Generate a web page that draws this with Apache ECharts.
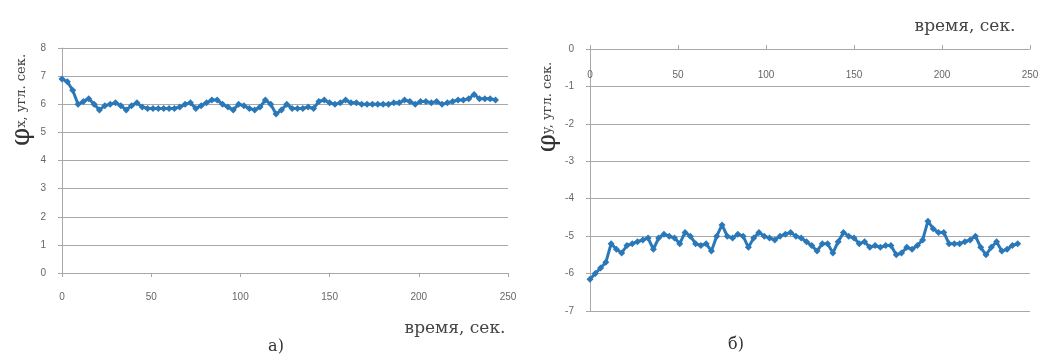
<!DOCTYPE html>
<html>
<head>
    <meta charset="utf-8">
    <script src="https://cdn.jsdelivr.net/npm/echarts@6/dist/echarts.min.js"></script>
    <title>phi x / phi y</title>
</head>
<body style="margin:0;background:#fff;">
    <div id="container" style="width:1045px;height:360px;"></div>
    <script type="text/javascript">
    // время, сек. (шаг 3 с)
    var timeSec = [];
    for (var t = 0; t <= 243; t += 3) timeSec.push(t);

    // φx, угл. сек.
    var phiX = [6.9, 6.8, 6.5, 6.0, 6.1, 6.2, 6.0, 5.8, 5.95, 6.0, 6.05, 5.95, 5.8, 5.95, 6.05, 5.9,
        5.85, 5.85, 5.85, 5.85, 5.85, 5.85, 5.9, 6.0, 6.05, 5.85, 5.95, 6.05, 6.15, 6.15, 6.0, 5.9,
        5.8, 6.0, 5.95, 5.85, 5.8, 5.9, 6.15, 6.0, 5.65, 5.8, 6.0, 5.85, 5.85, 5.85, 5.9, 5.85,
        6.1, 6.15, 6.05, 6.0, 6.05, 6.15, 6.05, 6.05, 6.0, 6.0, 6.0, 6.0, 6.0, 6.0, 6.05, 6.05,
        6.15, 6.1, 6.0, 6.1, 6.1, 6.05, 6.1, 6.0, 6.05, 6.1, 6.15, 6.15, 6.2, 6.35, 6.2, 6.2, 6.2, 6.15];

    // φy, угл. сек.
    var phiY = [-6.15, -6.0, -5.85, -5.7, -5.2, -5.35, -5.45, -5.25, -5.2, -5.15, -5.1, -5.05, -5.35, -5.05, -4.95, -5.0,
        -5.05, -5.2, -4.9, -5.0, -5.2, -5.25, -5.2, -5.4, -5.0, -4.7, -5.0, -5.05, -4.95, -5.0, -5.3, -5.05,
        -4.9, -5.0, -5.05, -5.1, -5.0, -4.95, -4.9, -5.0, -5.05, -5.15, -5.25, -5.4, -5.2, -5.2, -5.45, -5.15,
        -4.9, -5.0, -5.05, -5.2, -5.15, -5.3, -5.25, -5.3, -5.25, -5.25, -5.5, -5.45, -5.3, -5.35, -5.25, -5.1,
        -4.6, -4.8, -4.9, -4.9, -5.2, -5.2, -5.2, -5.15, -5.1, -5.0, -5.3, -5.5, -5.3, -5.15, -5.4, -5.35, -5.25, -5.2];

    function pairs(xs, ys) {
        return xs.map(function (x, i) { return [x, ys[i]]; });
    }

    var lineColor = '#2a78b8';
    var gridColor = '#a8a8a8';
    var tickFont = { color: '#666', fontSize: 10, fontFamily: 'Liberation Sans' };
    var serif = 'DejaVu Serif';

    var myChart = echarts.init(document.getElementById('container'));

    var option = {
        animation: false,
        backgroundColor: '#fff',
        grid: [
            { left: 62, width: 446, top: 48, height: 225 },
            { left: 590, width: 440, top: 49, height: 262 }
        ],
        xAxis: [{
            gridIndex: 0, type: 'value', min: 0, max: 250, interval: 50,
            axisLine: { lineStyle: { color: gridColor } },
            axisTick: { show: true, length: 4, lineStyle: { color: gridColor } },
            axisLabel: Object.assign({ margin: 19 }, tickFont),
            splitLine: { show: false }
        }, {
            gridIndex: 1, type: 'value', min: 0, max: 250, interval: 50, position: 'top',
            axisLine: { onZero: false, lineStyle: { color: gridColor } },
            axisTick: { show: true, length: 4, lineStyle: { color: gridColor } },
            axisLabel: Object.assign({ inside: true, margin: 21 }, tickFont),
            splitLine: { show: false }
        }],
        yAxis: [{
            gridIndex: 0, type: 'value', min: 0, max: 8, interval: 1,
            axisLine: { show: true, lineStyle: { color: gridColor } },
            axisTick: { show: true, length: 4, lineStyle: { color: gridColor } },
            axisLabel: Object.assign({ margin: 16 }, tickFont),
            splitLine: { lineStyle: { color: gridColor } }
        }, {
            gridIndex: 1, type: 'value', min: -7, max: 0, interval: 1,
            axisLine: { show: true, lineStyle: { color: gridColor } },
            axisTick: { show: true, length: 4, lineStyle: { color: gridColor } },
            axisLabel: Object.assign({ margin: 16 }, tickFont),
            splitLine: { lineStyle: { color: gridColor } }
        }],
        series: [{
            type: 'line', xAxisIndex: 0, yAxisIndex: 0,
            data: pairs(timeSec, phiX),
            symbol: 'diamond', symbolSize: 7,
            lineStyle: { color: lineColor, width: 3 },
            itemStyle: { color: lineColor }
        }, {
            type: 'line', xAxisIndex: 1, yAxisIndex: 1,
            data: pairs(timeSec, phiY),
            symbol: 'diamond', symbolSize: 7,
            lineStyle: { color: lineColor, width: 3 },
            itemStyle: { color: lineColor }
        }],
        graphic: [
            // подписи осей Y
            {
                type: 'text', x: 22, y: 100, rotation: Math.PI / 2,
                style: {
                    text: '{a|φ}{b|x, угл. сек.}',
                    align: 'center', verticalAlign: 'middle',
                    rich: {
                        a: { fontFamily: serif, fontSize: 26, fill: '#333' },
                        b: { fontFamily: serif, fontSize: 13, fill: '#444' }
                    }
                }
            },
            {
                type: 'text', x: 548, y: 107, rotation: Math.PI / 2,
                style: {
                    text: '{a|φ}{b|y, угл. сек.}',
                    align: 'center', verticalAlign: 'middle',
                    rich: {
                        a: { fontFamily: serif, fontSize: 26, fill: '#333' },
                        b: { fontFamily: serif, fontSize: 13, fill: '#444' }
                    }
                }
            },
            // подписи осей X
            {
                type: 'text', x: 455, y: 329,
                style: { text: 'время, сек.', fontFamily: serif, fontSize: 17, fill: '#444', align: 'center', verticalAlign: 'middle' }
            },
            {
                type: 'text', x: 965, y: 27,
                style: { text: 'время, сек.', fontFamily: serif, fontSize: 17, fill: '#444', align: 'center', verticalAlign: 'middle' }
            },
            // подписи рисунков
            {
                type: 'text', x: 276, y: 347,
                style: { text: 'а)', fontFamily: serif, fontSize: 16, fill: '#333', align: 'center', verticalAlign: 'middle' }
            },
            {
                type: 'text', x: 736, y: 345,
                style: { text: 'б)', fontFamily: serif, fontSize: 16, fill: '#333', align: 'center', verticalAlign: 'middle' }
            }
        ]
    };

    myChart.setOption(option);
    </script>
</body>
</html>
